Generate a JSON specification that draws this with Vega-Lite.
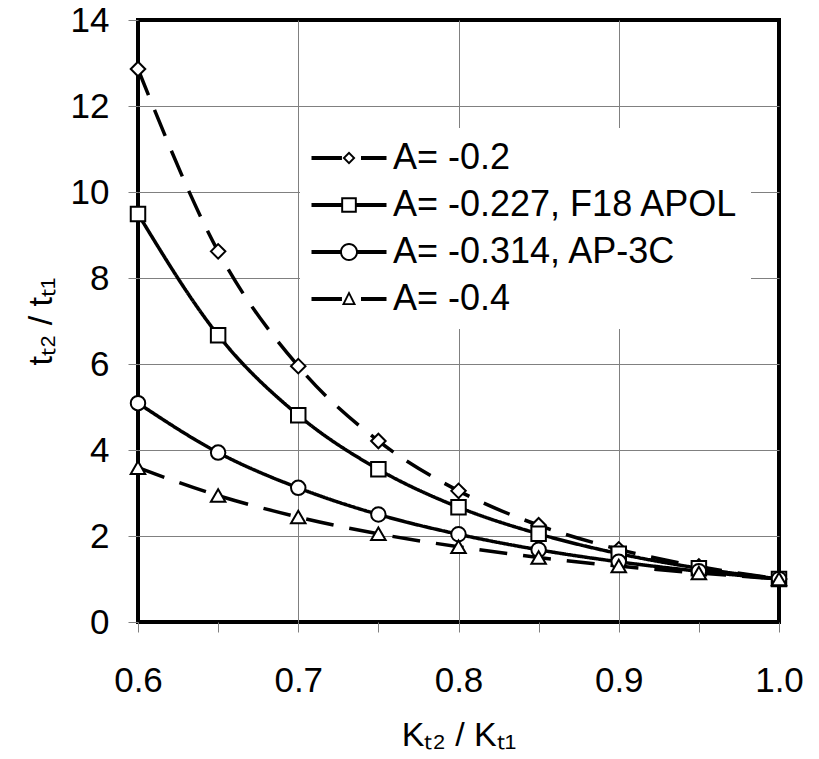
{
  "$schema": "https://vega.github.io/schema/vega-lite/v6.json",
  "width": 641,
  "height": 602,
  "autosize": "none",
  "padding": {"left": 138, "top": 20, "right": 40, "bottom": 137},
  "background": "white",
  "config": {
    "view": {"stroke": "black", "strokeWidth": 4},
    "font": "Liberation Sans",
    "axis": {
      "domain": false,
      "tickColor": "#808080",
      "tickSize": 10,
      "tickWidth": 1,
      "labelFont": "Liberation Sans",
      "labelFontSize": 35,
      "labelColor": "black",
      "titleFont": "Liberation Sans",
      "titleFontSize": 34,
      "titleFontWeight": "normal",
      "titleColor": "black",
      "gridWidth": 1
    }
  },
  "data": {
    "values": [
      {"series": "A= -0.2", "A": -0.2, "x": 0.6, "y": 12.86},
      {"series": "A= -0.2", "A": -0.2, "x": 0.65, "y": 8.62},
      {"series": "A= -0.2", "A": -0.2, "x": 0.7, "y": 5.95},
      {"series": "A= -0.2", "A": -0.2, "x": 0.75, "y": 4.21},
      {"series": "A= -0.2", "A": -0.2, "x": 0.8, "y": 3.05},
      {"series": "A= -0.2", "A": -0.2, "x": 0.85, "y": 2.25},
      {"series": "A= -0.2", "A": -0.2, "x": 0.9, "y": 1.69},
      {"series": "A= -0.2", "A": -0.2, "x": 0.95, "y": 1.29},
      {"series": "A= -0.2", "A": -0.2, "x": 1.0, "y": 1.0},
      {"series": "A= -0.227, F18 APOL", "A": -0.227, "x": 0.6, "y": 9.49},
      {"series": "A= -0.227, F18 APOL", "A": -0.227, "x": 0.65, "y": 6.67},
      {"series": "A= -0.227, F18 APOL", "A": -0.227, "x": 0.7, "y": 4.81},
      {"series": "A= -0.227, F18 APOL", "A": -0.227, "x": 0.75, "y": 3.55},
      {"series": "A= -0.227, F18 APOL", "A": -0.227, "x": 0.8, "y": 2.67},
      {"series": "A= -0.227, F18 APOL", "A": -0.227, "x": 0.85, "y": 2.05},
      {"series": "A= -0.227, F18 APOL", "A": -0.227, "x": 0.9, "y": 1.59},
      {"series": "A= -0.227, F18 APOL", "A": -0.227, "x": 0.95, "y": 1.25},
      {"series": "A= -0.227, F18 APOL", "A": -0.227, "x": 1.0, "y": 1.0},
      {"series": "A= -0.314, AP-3C", "A": -0.314, "x": 0.6, "y": 5.09},
      {"series": "A= -0.314, AP-3C", "A": -0.314, "x": 0.65, "y": 3.94},
      {"series": "A= -0.314, AP-3C", "A": -0.314, "x": 0.7, "y": 3.12},
      {"series": "A= -0.314, AP-3C", "A": -0.314, "x": 0.75, "y": 2.5},
      {"series": "A= -0.314, AP-3C", "A": -0.314, "x": 0.8, "y": 2.04},
      {"series": "A= -0.314, AP-3C", "A": -0.314, "x": 0.85, "y": 1.68},
      {"series": "A= -0.314, AP-3C", "A": -0.314, "x": 0.9, "y": 1.4},
      {"series": "A= -0.314, AP-3C", "A": -0.314, "x": 0.95, "y": 1.18},
      {"series": "A= -0.314, AP-3C", "A": -0.314, "x": 1.0, "y": 1.0},
      {"series": "A= -0.4", "A": -0.4, "x": 0.6, "y": 3.59},
      {"series": "A= -0.4", "A": -0.4, "x": 0.65, "y": 2.94},
      {"series": "A= -0.4", "A": -0.4, "x": 0.7, "y": 2.44},
      {"series": "A= -0.4", "A": -0.4, "x": 0.75, "y": 2.05},
      {"series": "A= -0.4", "A": -0.4, "x": 0.8, "y": 1.75},
      {"series": "A= -0.4", "A": -0.4, "x": 0.85, "y": 1.5},
      {"series": "A= -0.4", "A": -0.4, "x": 0.9, "y": 1.3},
      {"series": "A= -0.4", "A": -0.4, "x": 0.95, "y": 1.14},
      {"series": "A= -0.4", "A": -0.4, "x": 1.0, "y": 1.0}
    ]
  },
  "encoding": {
    "x": {
      "field": "x",
      "type": "quantitative",
      "scale": {"domain": [0.6, 1.0], "nice": false, "zero": false},
      "axis": {
        "title": "Kₜ₂ / Kₜ₁",
        "values": [0.6, 0.65, 0.7, 0.75, 0.8, 0.85, 0.9, 0.95, 1.0],
        "labelExpr": "round(datum.value*20) % 2 == 0 ? format(datum.value, '.1f') : ''",
        "labelFlush": false,
        "labelOverlap": false,
        "labelPadding": 31,
        "titlePadding": 20,
        "grid": true,
        "gridColor": {
          "condition": {"test": "round(datum.value*20) % 2 == 1 || datum.value <= 0.6 || datum.value >= 1", "value": "transparent"},
          "value": "#808080"
        }
      }
    },
    "y": {
      "field": "y",
      "type": "quantitative",
      "scale": {"domain": [0, 14], "nice": false},
      "axis": {
        "title": "tₜ₂ / tₜ₁",
        "values": [0, 2, 4, 6, 8, 10, 12, 14],
        "labelPadding": 19,
        "titlePadding": 12,
        "grid": true,
        "gridColor": {
          "condition": {"test": "datum.value <= 0 || datum.value >= 14", "value": "transparent"},
          "value": "#808080"
        }
      }
    }
  },
  "layer": [
    {
      "mark": {"type": "line", "interpolate": "monotone", "color": "black", "strokeWidth": 3.5},
      "encoding": {
        "strokeDash": {
          "field": "series",
          "type": "nominal",
          "scale": {
            "domain": ["A= -0.2", "A= -0.227, F18 APOL", "A= -0.314, AP-3C", "A= -0.4"],
            "range": [[28, 16], [1, 0], [1, 0], [28, 16]]
          },
          "legend": {
            "orient": "none",
            "legendX": 162,
            "legendY": 108,
            "title": null,
            "padding": 12,
            "rowPadding": 11,
            "fillColor": "white",
            "labelFont": "Liberation Sans",
            "labelFontSize": 36,
            "labelColor": "black",
            "labelLimit": 0,
            "labelOffset": 26,
            "symbolSize": 900,
            "symbolOffset": 19,
            "symbolStrokeWidth": 4,
            "symbolStrokeColor": "black",
            "encode": {
              "symbols": {
                "update": {
                  "shape": {"signal": "datum.index == 0 ? 'M-2.5,-0.13H-0.47V0.13H-2.5Z M0.8,-0.13H2.5V0.13H0.8Z M0,-0.43L0.43,0L0,0.43L-0.43,0Z M0,-0.25L-0.25,0L0,0.25L0.25,0Z' : datum.index == 1 ? 'M-2.5,-0.13H-0.45V0.13H-2.5Z M0.45,-0.13H2.5V0.13H0.45Z M-0.52,-0.52H0.52V0.52H-0.52Z M-0.39,-0.39V0.39H0.39V-0.39Z' : datum.index == 2 ? 'M-2.5,-0.13H-0.55V0.13H-2.5Z M0.55,-0.13H2.5V0.13H0.55Z M-0.6,0A0.6,0.6,0,1,1,0.6,0A0.6,0.6,0,1,1,-0.6,0Z M-0.47,0A0.47,0.47,0,1,0,0.47,0A0.47,0.47,0,1,0,-0.47,0Z' : 'M-2.5,-0.13H-0.47V0.13H-2.5Z M0.8,-0.13H2.5V0.13H0.8Z M0,-0.53L0.47,0.4L-0.47,0.4Z M0,-0.26L-0.27,0.28L0.27,0.28Z'"},
                  "strokeDash": {"value": [1, 0]},
                  "stroke": {"value": "transparent"},
                  "strokeWidth": {"value": 0},
                  "fill": {"value": "black"},
                  "opacity": {"value": 1}
                }
              }
            }
          }
        }
      }
    },
    {
      "mark": {"type": "point", "filled": true, "fill": "white", "stroke": "black", "strokeWidth": 2, "size": 210, "opacity": 1},
      "encoding": {
        "shape": {
          "field": "A",
          "type": "nominal",
          "scale": {
            "domain": [-0.2, -0.227, -0.314, -0.4],
            "range": ["diamond", "square", "circle", "triangle-up"]
          },
          "legend": null
        }
      }
    }
  ]
}
